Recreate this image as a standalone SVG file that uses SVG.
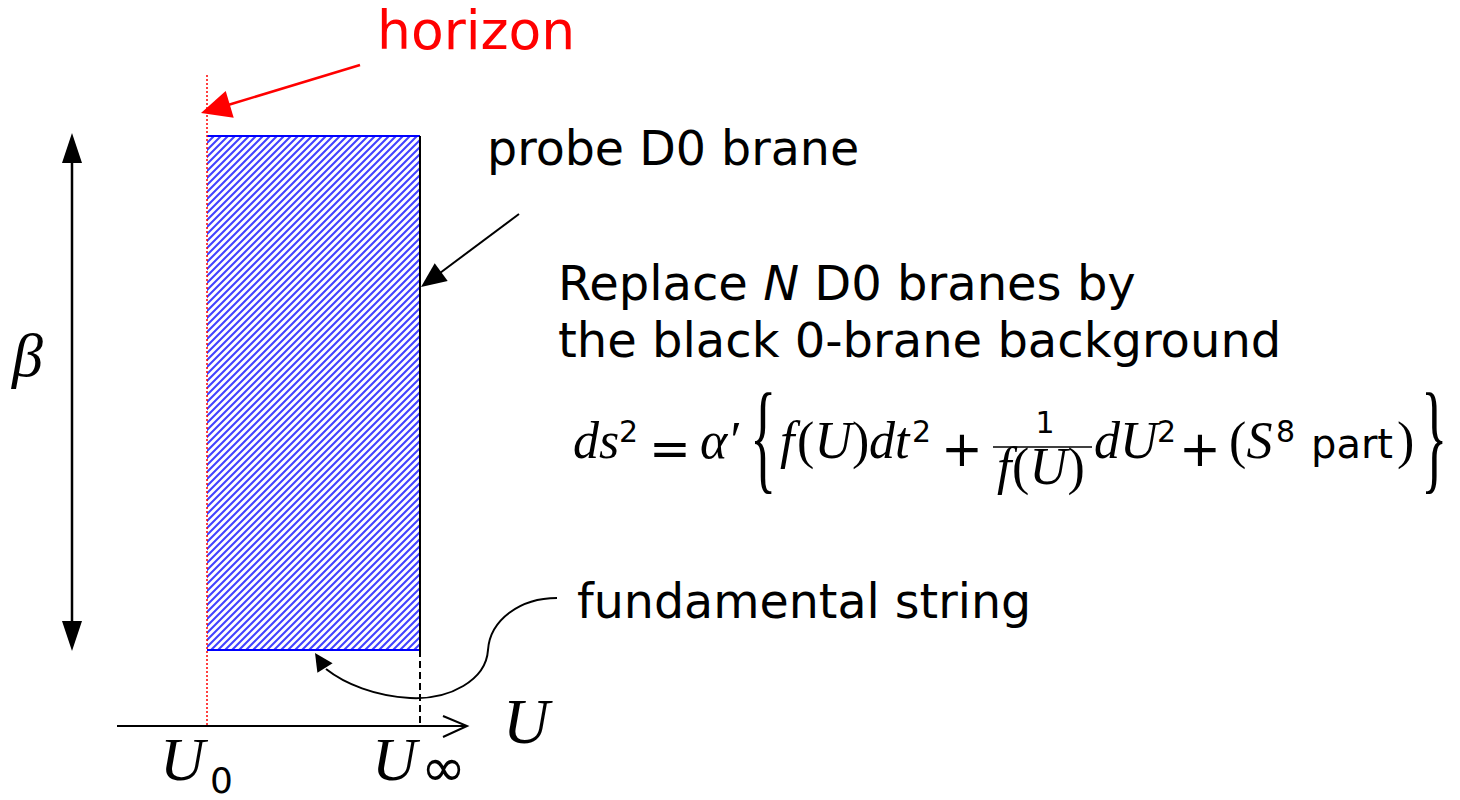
<svg xmlns="http://www.w3.org/2000/svg" width="1460" height="800" viewBox="0 0 1460 800">
<style>
.sans{font-family:"DejaVu Sans","Liberation Sans",sans-serif;fill:#000}
.red{fill:#ff0000}
.mi{font-family:"Liberation Serif","DejaVu Serif",serif;font-style:italic;fill:#000}
.mr{font-family:"Liberation Serif","DejaVu Serif",serif;fill:#000}
.ln{stroke:#000;stroke-width:2;fill:none}
</style>
<defs>
<pattern id="hatch" patternUnits="userSpaceOnUse" width="7" height="7">
<rect width="7" height="7" fill="#ffffff"/>
<path d="M-1,1 L1,-1 M0,7 L7,0 M6,8 L8,6" stroke="#4242ff" stroke-width="2.1"/>
</pattern>
</defs>
<rect width="1460" height="800" fill="#ffffff"/>

<g id="brane">
<rect x="207" y="136" width="213" height="514" fill="url(#hatch)"/>
<line x1="207" y1="136" x2="420" y2="136" stroke="#0000ff" stroke-width="2"/>
<line x1="207" y1="650" x2="420" y2="650" stroke="#0000ff" stroke-width="2"/>
<line x1="420" y1="136" x2="420" y2="650" stroke="#000" stroke-width="2"/>
</g>

<g id="horizon-line">
<line x1="207" y1="75" x2="207" y2="726" stroke="#ff0000" stroke-width="1.5" stroke-dasharray="2,2"/>
</g>

<g id="connectors">
<line x1="420" y1="650" x2="420" y2="726" stroke="#000" stroke-width="2" stroke-dasharray="7,4"/>
<line x1="360" y1="65" x2="228" y2="105" stroke="#ff0000" stroke-width="2.5"/>
<polygon points="201,113 225.7,90.9 233.7,117.7" fill="#ff0000"/>
<line x1="519" y1="214" x2="440" y2="273" class="ln"/>
<polygon points="421,287 434.7,263.3 447.7,281.1" fill="#000"/>
<path d="M557,598 C520,598 490,620 488,650 C486,680 450,700 410,698 C375,696 345,684 326,669" class="ln"/>
<polygon points="315,653 332.6,663.2 317.4,672.8" fill="#000"/>
<line x1="72" y1="160" x2="72" y2="625" stroke="#000" stroke-width="2.5"/>
<polygon points="72,133 62,163 82,163" fill="#000"/>
<polygon points="72,651 62,621 82,621" fill="#000"/>
<line x1="117" y1="726" x2="466" y2="726" class="ln"/>
<polyline points="443,716 467,726 443,737" class="ln"/>
</g>

<g id="labels">
<text x="377" y="49" class="sans red" font-size="53.5">horizon</text>
<text x="487" y="165" class="sans" font-size="47.5">probe D0 brane</text>
<text x="558" y="300" class="sans" font-size="48">Replace <tspan font-style="italic">N</tspan> D0 branes by</text>
<text x="558" y="357" class="sans" font-size="48">the black 0-brane background</text>
<text x="577" y="618" class="sans" font-size="47.5">fundamental string</text>
<text x="12" y="376" class="mi" font-size="62">β</text>
<text x="503" y="743" class="mi" font-size="64">U</text>
<text x="160" y="780" class="mi" font-size="62">U</text>
<text x="210" y="793" class="sans" font-size="36">0</text>
<text x="372" y="780" class="mi" font-size="62">U</text>
<text x="421" y="786" class="sans" font-size="54">∞</text>
</g>

<g id="formula">
<text y="458" class="mi" font-size="52"><tspan x="573">d</tspan><tspan x="599">s</tspan></text>
<text x="619" y="442" class="sans" font-size="30">2</text>
<text x="670" y="466" class="sans" font-size="50" text-anchor="middle">=</text>
<text x="700" y="458" class="mi" font-size="52">α′</text>
<text class="mr" font-size="122" transform="translate(750,478) scale(0.45,1)">{</text>
<text y="458" class="mi" font-size="52"><tspan x="780">f</tspan></text>
<text y="458" class="mr" font-size="52"><tspan x="797">(</tspan></text>
<text y="458" class="mi" font-size="52"><tspan x="814.5">U</tspan></text>
<text y="458" class="mr" font-size="52"><tspan x="852">)</tspan></text>
<text y="458" class="mi" font-size="52"><tspan x="869">d</tspan><tspan x="895">t</tspan></text>
<text x="912" y="442" class="sans" font-size="30">2</text>
<text x="962" y="466" class="sans" font-size="50" text-anchor="middle">+</text>
<line x1="993" y1="447" x2="1092" y2="447" stroke="#000" stroke-width="1.5"/>
<text x="1045" y="433" class="sans" font-size="30" text-anchor="middle">1</text>
<text y="484" class="mi" font-size="52"><tspan x="997">f</tspan></text>
<text y="484" class="mr" font-size="52"><tspan x="1012">(</tspan></text>
<text y="484" class="mi" font-size="52"><tspan x="1029.5">U</tspan></text>
<text y="484" class="mr" font-size="52"><tspan x="1067.5">)</tspan></text>
<text y="458" class="mi" font-size="52"><tspan x="1094">d</tspan><tspan x="1120">U</tspan></text>
<text x="1157" y="442" class="sans" font-size="30">2</text>
<text x="1200" y="466" class="sans" font-size="50" text-anchor="middle">+</text>
<text x="1229" y="458" class="mr" font-size="52">(</text>
<text x="1246.5" y="458" class="mi" font-size="52">S</text>
<text x="1276" y="442" class="sans" font-size="30">8</text>
<text x="1311" y="458" class="sans" font-size="40">part</text>
<text x="1397" y="458" class="mr" font-size="52">)</text>
<text class="mr" font-size="122" transform="translate(1421,478) scale(0.45,1)">}</text>
</g>
</svg>
